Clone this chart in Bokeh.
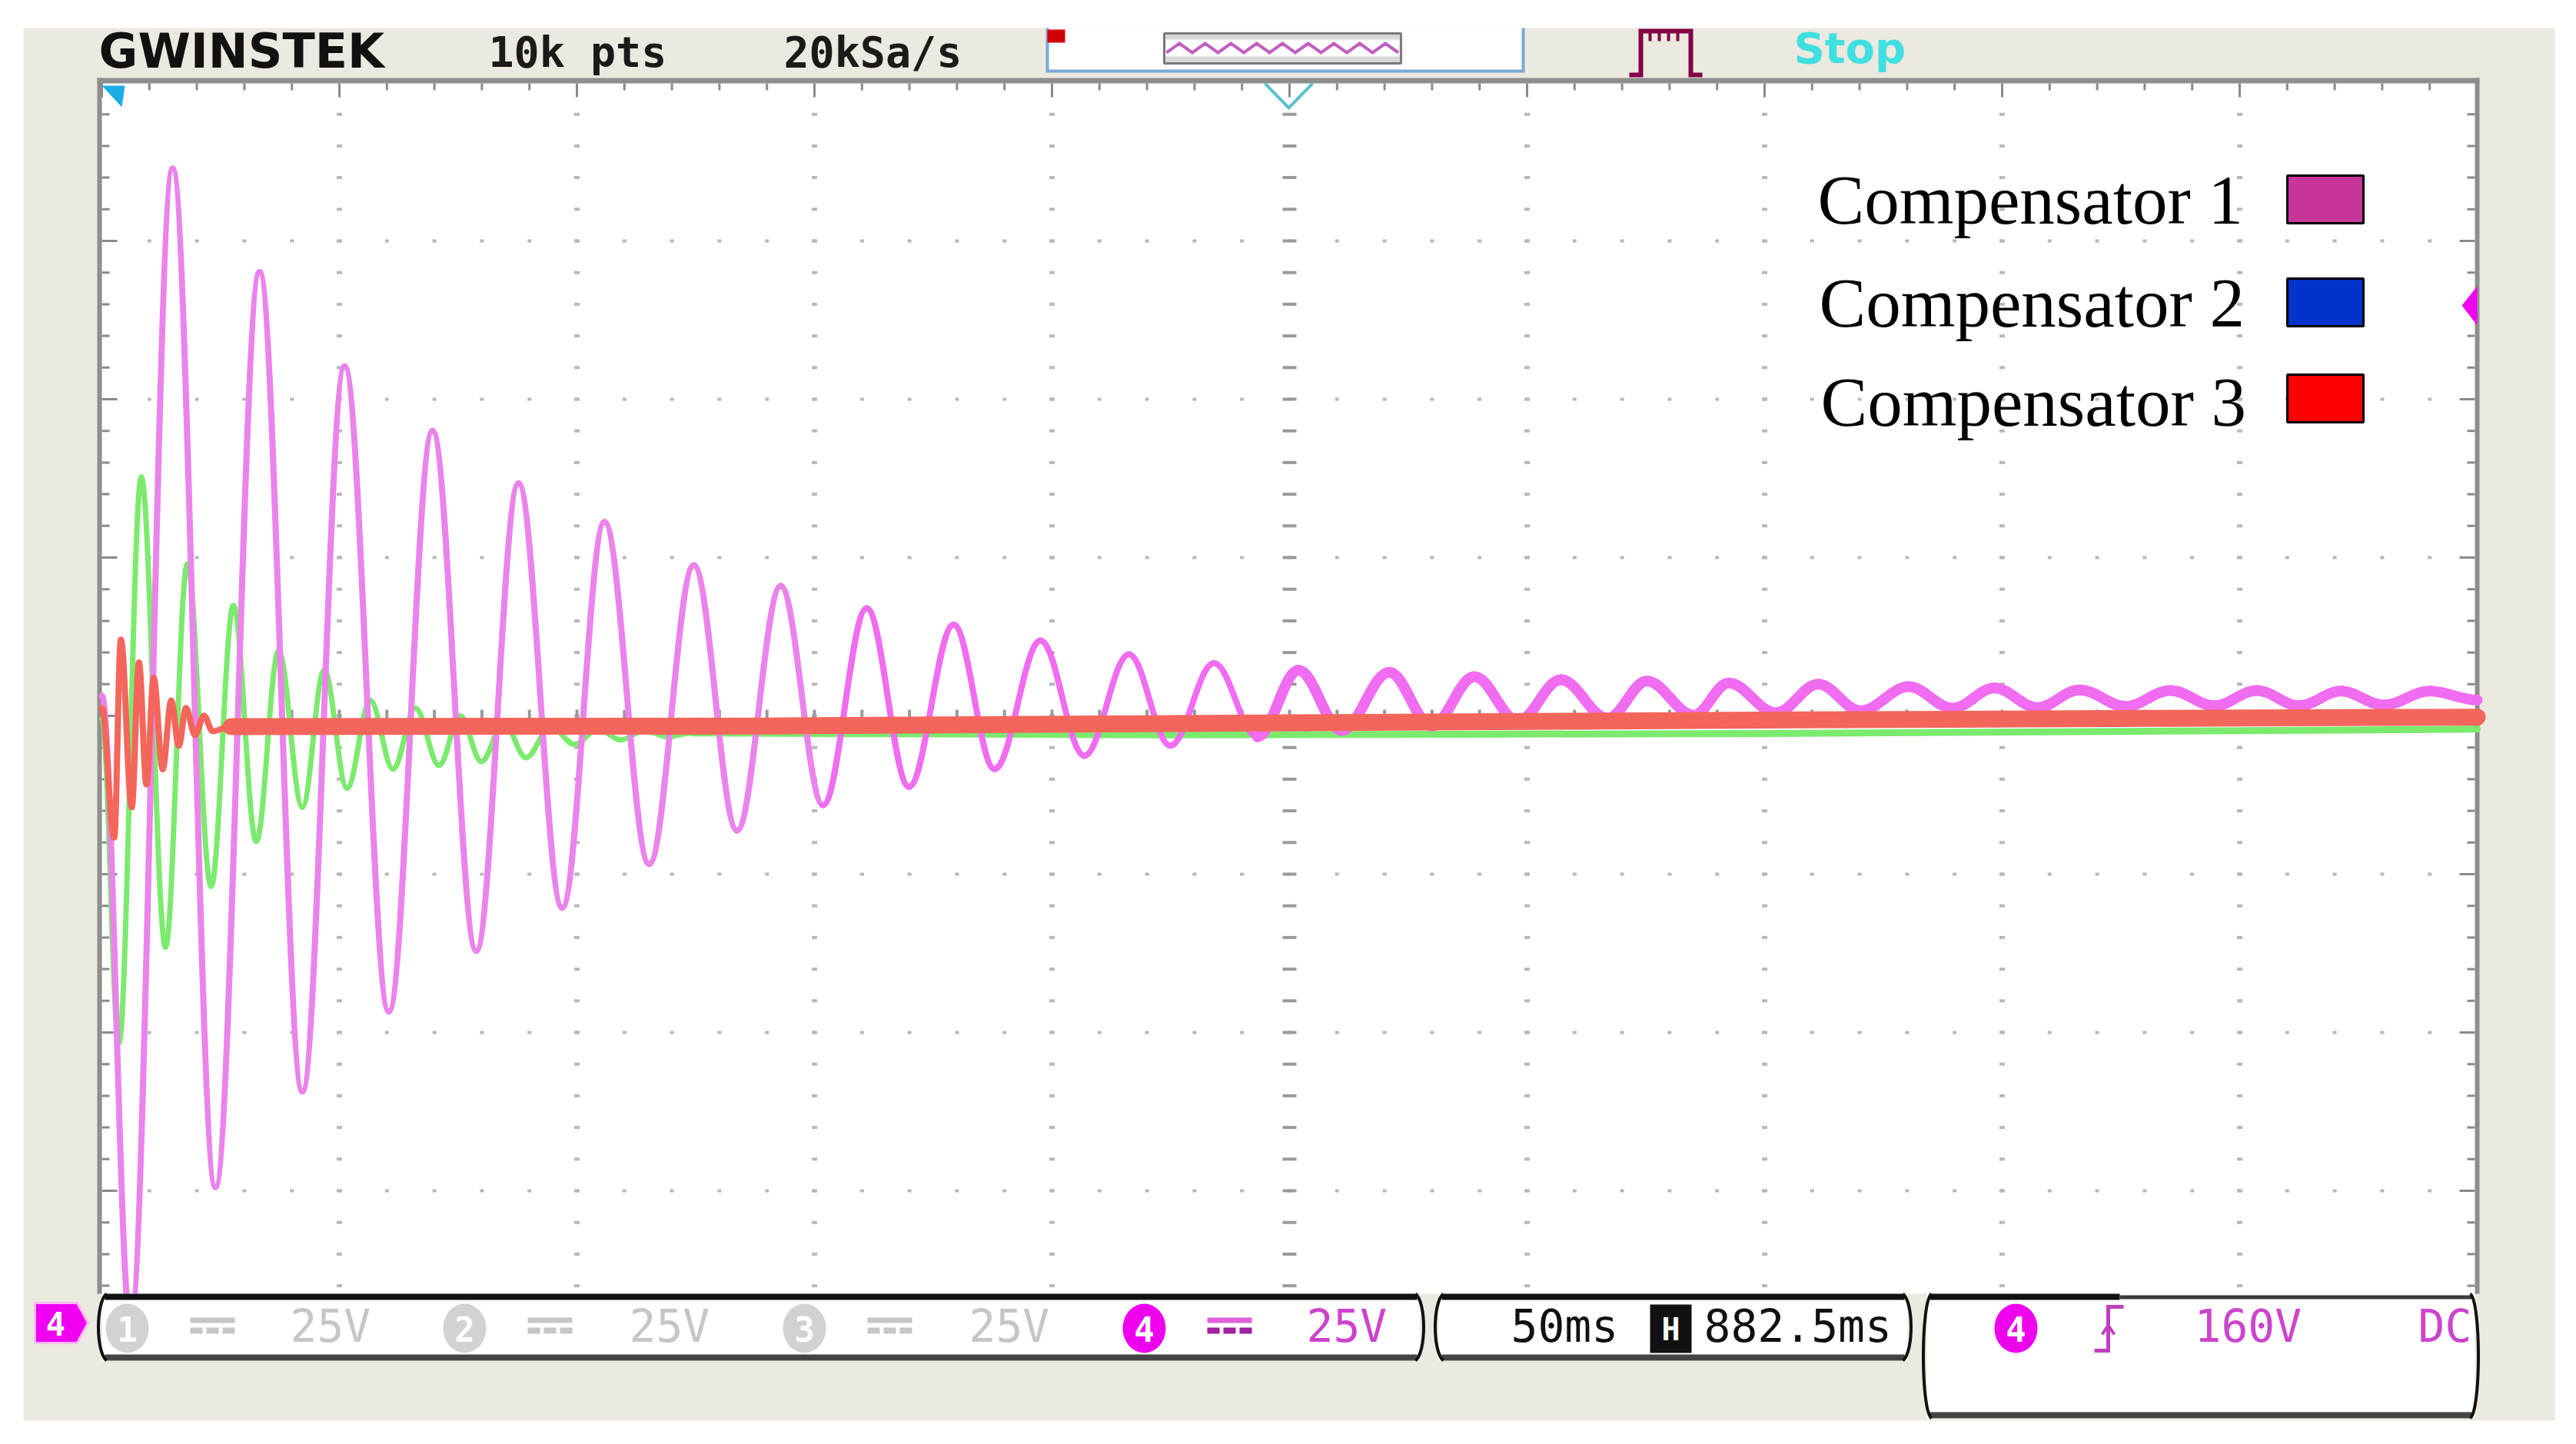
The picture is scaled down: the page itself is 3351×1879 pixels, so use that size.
import numpy as np
from bokeh.plotting import figure
from bokeh.models import Range1d, ColumnDataSource
from bokeh.core.properties import value
from bokeh.embed import file_html
from bokeh.resources import INLINE

# ---------------- data (time in ms, 50 ms/div ; voltage in V, 25 V/div) ----------------
# extrema of each captured waveform
pink_t = [0.0, 6.0, 14.9, 23.9, 33.2, 42.2, 51.1, 60.4, 69.6, 78.8, 87.7, 96.9, 105.8, 115.2,
          124.6, 133.7, 142.9, 151.8, 161.0, 169.9, 179.3, 187.9, 197.6, 206.8, 216.2, 224.9,
          234.1, 243.2, 251.9, 261.0, 271.0, 279.9, 288.9, 298.1, 307.1, 317.0, 325.2, 335.1,
          342.4, 352.4, 361.3, 370.2, 380.3, 389.6, 398.4, 407.4, 416.3, 426.0, 435.4, 444.7,
          453.6, 462.5, 471.4, 480.3, 490.0, 500.0]
pink_v = [3.2, -95.8, 86.4, -74.4, 70.1, -59.3, 55.2, -46.7, 45.0, -37.1, 36.7, -30.3, 30.6, -23.4,
          23.8, -18.1, 20.5, -14.1, 17.0, -11.2, 14.4, -8.4, 11.9, -6.3, 9.7, -4.7,
          8.3, -3.3, 7.2, -2.3, 6.9, -1.6, 6.2, -0.8, 5.7, -0.4, 5.5, 0.1,
          5.2, 0.5, 5.0, 0.8, 4.6, 1.2, 4.4, 1.3, 4.1, 1.5, 4.0, 1.6,
          4.0, 1.6, 3.9, 1.7, 3.9, 2.5]

green_t = [0.0, 3.6, 8.3, 13.4, 18.0, 23.0, 27.7, 32.5, 37.2, 42.2, 46.8, 51.6, 56.5, 61.3,
           66.0, 71.0, 75.4, 79.9, 84.6, 89.3, 94.5, 99.5, 104.4, 109.2, 114.2, 119.1, 124.3,
           221.4, 350.8, 500.0]
green_v = [-0.5, -51.6, 37.7, -36.5, 24.0, -26.9, 17.4, -19.8, 10.2, -14.4, 7.2, -11.4, 2.4, -8.4,
           1.2, -7.8, 0.0, -7.2, -1.1, -6.6, -1.7, -4.5, -2.1, -3.8, -2.3, -3.3, -2.7,
           -3.0, -2.8, -2.1]

red_t = [0.0, 2.6, 4.0, 6.3, 7.8, 9.4, 10.9, 12.8, 14.6, 16.2, 17.7, 19.6, 21.5, 23.3,
         27.2, 140.5, 253.7, 367.0, 500.0]
red_v = [1.2, -19.2, 12.0, -14.4, 8.4, -10.8, 6.0, -8.4, 2.4, -4.7, 1.2, -3.0, 0.0, -2.4,
         -1.7, -1.6, -1.1, -0.6, -0.2]

legend_labels = ["Compensator 1", "Compensator 2", "Compensator 3"]
legend_colors = ["#C8359A", "#0033CC", "#FF0000"]

header_labels = ["GWINSTEK", "10k pts", "20kSa/s", "Stop"]
channel_labels = ["1", "2", "3", "4"]
channel_scales = ["25V", "25V", "25V", "25V"]
timebase_labels = ["50ms", "882.5ms"]
trigger_labels = ["4", "160V", "DC"]

# ---------------- screen geometry ----------------
W, H = 3335, 1863


def X(px):   # image pixel -> ms
    return (px - 132) * 500.0 / 3090.0


def Y(py):   # image pixel -> V
    return (931 - py) * 25.0 / 206.0


p = figure(width=W, height=H, x_range=Range1d(X(0), X(W)), y_range=Range1d(Y(H), Y(0)),
           output_backend="svg", toolbar_location=None, min_border=0,
           x_axis_type=None, y_axis_type=None)
p.title.visible = False
p.outline_line_color = None
p.background_fill_color = "white"
p.border_fill_color = "white"


def box(l, r, t, b, fill, line=None, lw=1):
    p.quad(left=X(l), right=X(r), top=Y(t), bottom=Y(b), fill_color=fill,
           line_color=line, line_width=lw)


def poly(xs, ys, color, lw, join="miter"):
    p.line([X(v) for v in xs], [Y(v) for v in ys], line_color=color, line_width=lw, line_join=join)


def txt(x, y, s, size, color, font, bold=False, align="left"):
    # y is the vertical centre of the capitals
    p.text(x=[X(x)], y=[Y(y)], text=[s], text_font=value(font),
           text_font_size=value(f"{size}px"), text_color=color, text_align=align,
           text_baseline="middle", text_font_style="bold" if bold else "normal")


# background frame and screen
box(30, 3323, 36, 1848, "#ECE9E0")
box(132, 3222, 107, 1683, "white")

# ---------------- graticule ----------------
vdots_t, vdots_v = [], []
for tt in range(50, 500, 50):
    if tt == 250:
        continue
    for vv in range(-90, 100, 5):
        vdots_t.append(tt)
        vdots_v.append(vv)
p.rect(vdots_t, vdots_v, width=7, height=4, width_units="screen", height_units="screen",
       fill_color="#B8B8B8", line_color=None)
hdots_t, hdots_v = [], []
for vv in (75, 50, 25, -25, -50, -75):
    for tt in range(10, 500, 10):
        hdots_t.append(tt)
        hdots_v.append(vv)
p.rect(hdots_t, hdots_v, width=5, height=4, width_units="screen", height_units="screen",
       fill_color="#B8B8B8", line_color=None)
# centre cross ticks
cv = list(range(-90, 100, 5))
p.rect([250] * len(cv), cv, width=18, height=4, width_units="screen", height_units="screen",
       fill_color="#9A9A9A", line_color=None)
ct = list(range(10, 500, 10))
p.rect(ct, [0] * len(ct), width=4, height=16, width_units="screen", height_units="screen",
       fill_color="#9A9A9A", line_color=None)

# borders
box(126, 3225, 101, 108, "#8E8E8E")
box(126, 132, 101, 1683, "#8E8E8E")
box(3219, 3225, 101, 1683, "#8E8E8E")
tt_all = list(range(0, 501, 10))
tl = [18 if t % 50 == 0 else 9 for t in tt_all]
p.rect(tt_all, [Y(108 + h / 2) for h in tl], width=3, height=tl, width_units="screen",
       height_units="screen", fill_color="#8A8A8A", line_color=None)
vv_all = list(range(-90, 100, 5))
vl = [20 if v % 25 == 0 else 10 for v in vv_all]
p.rect([X(132 + w / 2) for w in vl], vv_all, width=vl, height=3, width_units="screen",
       height_units="screen", fill_color="#8A8A8A", line_color=None)
p.rect([X(3219 - w / 2) for w in vl], vv_all, width=vl, height=3, width_units="screen",
       height_units="screen", fill_color="#8A8A8A", line_color=None)

# ---------------- traces ----------------
K = 0.3642


def trace(t, v, colors, widths):
    t = np.asarray(t, float)
    v = np.asarray(v, float)
    dx = np.diff(t)
    src = ColumnDataSource(dict(x0=t[:-1], y0=v[:-1], x1=t[1:], y1=v[1:],
                                cx0=t[:-1] + K * dx, cy0=v[:-1], cx1=t[1:] - K * dx, cy1=v[1:],
                                c=colors, w=widths))
    p.bezier(x0="x0", y0="y0", x1="x1", y1="y1", cx0="cx0", cy0="cy0", cx1="cx1", cy1="cy1",
             line_color="c", line_width="w", line_cap="round", source=src)


gt = np.asarray(green_t)[:-1]
trace(green_t, green_v, ["#7CEA6E"] * len(gt), [7 if t < 120 else 9 for t in gt])
pt = np.asarray(pink_t)[:-1]
trace(pink_t, pink_v, ["#EA84EA" if t < 150 else "#F06CF0" for t in pt],
      [8 if t < 240 else 14 for t in pt])
rt = np.asarray(red_t)[:-1]
trace(red_t, red_v, ["#F4665B"] * len(rt), [8 if t < 25 else 22 for t in rt])

# screen markers
p.patch([X(132), X(162), X(158)], [Y(111), Y(111), Y(139)], fill_color="#1AADE6", line_color=None)
poly([1645, 1676, 1707], [108, 140, 108], "#5CC0CC", 4)
p.patch([X(3202), X(3222), X(3222)], [Y(397), Y(372), Y(423)], fill_color="#F000F0", line_color=None)

# ---------------- legend ----------------
leg_mid = [260, 394, 523]
leg_x = [2364, 2366, 2368]
leg_box = [(228, 290), (362, 424), (487, 549)]
for lab, col, ym, xl, (bt, bb) in zip(legend_labels, legend_colors, leg_mid, leg_x, leg_box):
    txt(xl, ym, lab, 91, "black", "Liberation Serif")
    box(2975, 3074, bt, bb, col, "black", 3)

# ---------------- header ----------------
txt(128, 66, header_labels[0], 62, "#111111", "DejaVu Sans", bold=True)
txt(635, 67, header_labels[1], 55, "#1A1A1A", "DejaVu Sans Mono", bold=True)
txt(1019, 67, header_labels[2], 55, "#1A1A1A", "DejaVu Sans Mono", bold=True)
box(1361, 1982, 36, 93, "white")
poly([1362, 1362, 1981, 1981], [36, 92, 92, 36], "#7AA9D6", 4)
box(1362, 1385, 38, 55, "#D00000")
box(1514, 1822, 43, 82, "#D8D8D8", "#7A7A7A", 3)
box(1516, 1820, 51, 73, "white")
zx = np.arange(1517, 1820, 16.75)
zy = np.where(np.arange(len(zx)) % 2 == 0, 68, 56)
poly(list(zx), list(zy), "#C060C0", 4)
poly([2119, 2134, 2134, 2199, 2199, 2214], [97, 97, 40, 40, 97, 97], "#820046", 6)
for cx in (2146, 2158, 2170, 2182):
    poly([cx, cx], [40, 53], "#820046", 4)
txt(2333, 62, header_labels[3], 56, "#40E0E0", "DejaVu Sans", bold=True)

# ---------------- status bars ----------------


def bar(l, r, t, b, top_black_to=None):
    box(l + 4, r - 4, t, b, "white")
    if top_black_to is None:
        box(l + 8, r - 8, t, t + 8, "#111111")
    else:
        box(l + 8, top_black_to, t, t + 8, "#111111")
        box(top_black_to, r - 8, t + 2, t + 7, "#3A3A3A")
    box(l + 8, r - 8, b - 8, b, "#444444")
    p.bezier(x0=X(l + 10), y0=Y(t), x1=X(l + 10), y1=Y(b), cx0=X(l - 4), cy0=Y(t + 12),
             cx1=X(l - 4), cy1=Y(b - 12), line_color="#111111", line_width=4)
    p.bezier(x0=X(r - 10), y0=Y(t), x1=X(r - 10), y1=Y(b), cx0=X(r + 4), cy0=Y(t + 12),
             cx1=X(r + 4), cy1=Y(b - 12), line_color="#111111", line_width=4)


bar(128, 1851, 1683, 1770)
bar(1867, 2485, 1683, 1770)
bar(2502, 3223, 1683, 1845, top_black_to=2757)

# ground marker of channel 4
p.patch([X(45), X(100), X(114), X(100), X(45)], [Y(1695), Y(1695), Y(1721), Y(1747), Y(1747)],
        fill_color="#F000F0", line_color="#F8B8F8", line_width=3)
txt(72, 1722, channel_labels[3], 42, "white", "DejaVu Sans Mono", bold=True, align="center")

GRAY = "#C6C6C6"
MAG = "#CC44CC"


def chan(cx, label, scale, fill, textcol, dc_top, dc_bot, xs):
    p.ellipse([X(cx)], [Y(1728)], width=56, height=64, width_units="screen", height_units="screen",
              fill_color=fill, line_color=None)
    txt(cx, 1729, label, 44, "white", "DejaVu Sans Mono", bold=True, align="center")
    d0 = cx + 82
    box(d0, d0 + 58, 1714, 1721, dc_top)
    for k in range(3):
        box(d0 + k * 21, d0 + k * 21 + 16, 1727, 1735, dc_bot)
    txt(xs, 1725, scale, 58, textcol, "DejaVu Sans Mono")


chan(165, channel_labels[0], channel_scales[0], "#D2D2D2", GRAY, GRAY, GRAY, 377)
chan(604, channel_labels[1], channel_scales[1], "#D2D2D2", GRAY, GRAY, GRAY, 818)
chan(1046, channel_labels[2], channel_scales[2], "#D2D2D2", GRAY, GRAY, GRAY, 1260)
chan(1488, channel_labels[3], channel_scales[3], "#EE00EE", MAG, "#E060E0", "#A020A0", 1699)

txt(1965, 1725, timebase_labels[0], 58, "#111111", "DejaVu Sans Mono")
box(2146, 2200, 1697, 1760, "#111111")
txt(2173, 1729, "H", 40, "white", "DejaVu Sans Mono", bold=True, align="center")
txt(2216, 1725, timebase_labels[1], 58, "#111111", "DejaVu Sans Mono")

p.ellipse([X(2622)], [Y(1728)], width=56, height=64, width_units="screen", height_units="screen",
          fill_color="#EE00EE", line_color=None)
txt(2622, 1729, trigger_labels[0], 44, "white", "DejaVu Sans Mono", bold=True, align="center")
poly([2724, 2742, 2742, 2762], [1757, 1757, 1700, 1700], "#C040C0", 5)
poly([2734, 2742, 2750], [1736, 1724, 1736], "#C040C0", 4)
txt(2854, 1725, trigger_labels[1], 58, MAG, "DejaVu Sans Mono")
txt(3145, 1725, trigger_labels[2], 58, MAG, "DejaVu Sans Mono")

open("out.html", "w").write(file_html(p, INLINE))
